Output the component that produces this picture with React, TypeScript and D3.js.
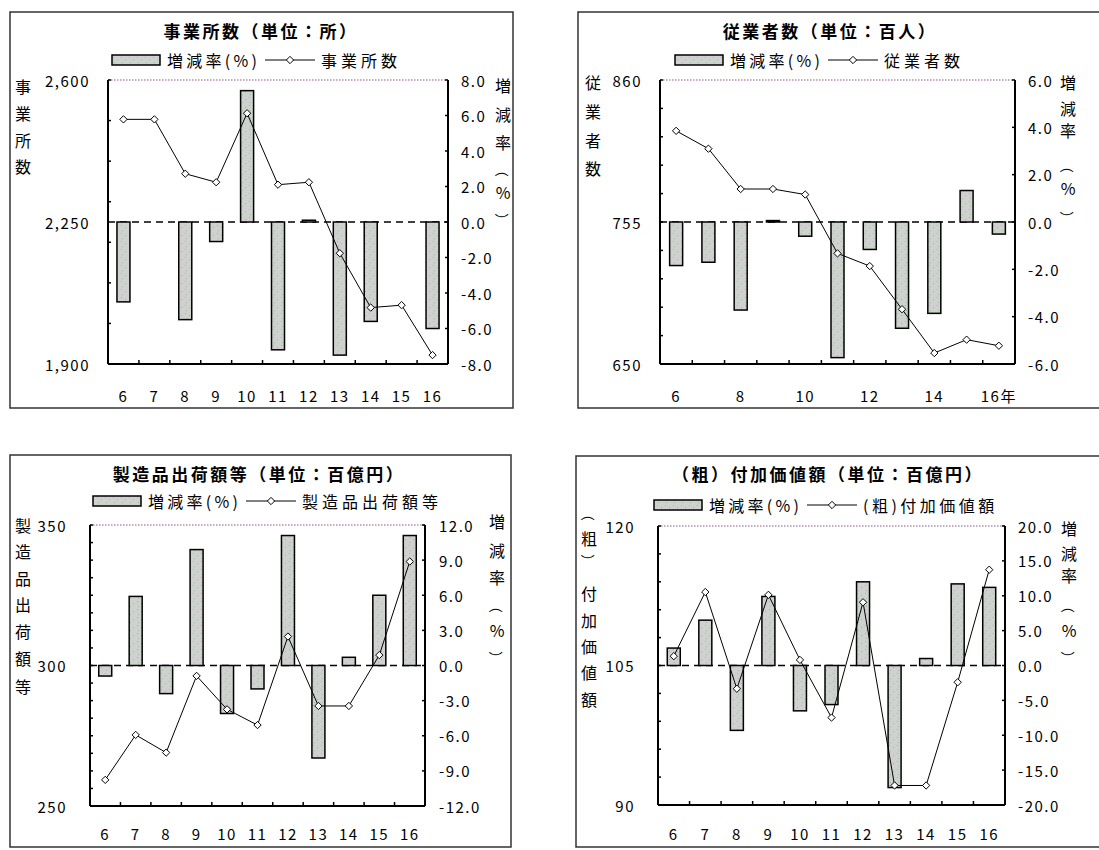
import * as d3 from "d3";

// 年次 (平成)
const years = ["6", "7", "8", "9", "10", "11", "12", "13", "14", "15", "16"];
const yearLabelsAll = years;
const yearLabelsEven = ["6", "", "8", "", "10", "", "12", "", "14", "", "16年"];

// 事業所数
const estabCount = [2503, 2503, 2369, 2348, 2518, 2342, 2348, 2173, 2039, 2045, 1922];
const estabRate = [-4.5, 0, -5.5, -1.1, 7.4, -7.2, 0.1, -7.5, -5.6, 0, -6.0];
const estabLeftLabels = [1900, 2250, 2600];
const estabRightLabels = [-8, -6, -4, -2, 0, 2, 4, 6, 8];

// 従業者数
const workerCount = [822.4, 809.2, 779.4, 779.4, 775.3, 731.8, 722.4, 690.5, 658.1, 668.0, 663.5];
const workerRate = [-1.84, -1.7, -3.72, 0.06, -0.6, -5.73, -1.16, -4.49, -3.86, 1.33, -0.51];
const workerLeftLabels = [650, 755, 860];
const workerRightLabels = [-6, -4, -2, 0, 2, 4, 6];

// 製造品出荷額等
const shipAmount = [259.3, 275.3, 269.0, 296.3, 284.4, 278.8, 310.3, 285.6, 285.6, 303.7, 337.0];
const shipRate = [-0.9, 5.9, -2.4, 9.9, -4.1, -2.0, 11.1, -7.9, 0.7, 6.0, 11.1];
const shipLeftLabels = [250, 300, 350];
const shipRightLabels = [-12, -9, -6, -3, 0, 3, 6, 9, 12];

// (粗)付加価値額
const valueAmount = [106.0, 112.9, 102.5, 112.6, 105.6, 99.4, 111.8, 92.1, 92.1, 103.2, 115.3];
const valueRate = [2.5, 6.5, -9.3, 9.9, -6.5, -5.6, 12.0, -17.5, 1.0, 11.7, 11.2];
const valueLeftLabels = [90, 105, 120];
const valueRightLabels = [-20, -15, -10, -5, 0, 5, 10, 15, 20];

const FONT = '"Noto Sans CJK JP", "Noto Sans CJK SC", sans-serif';

type Cfg = {
  id: string;
  title: string;
  name: string;
  nameSpacing: number;
  leftTitle: { ch: string; x: number; y: number }[];
  rightTitle: { ch: string; x: number; y: number }[];
  frame: [number, number, number, number];
  plot: { l: number; r: number; t: number; b: number };
  count: number[];
  rate: number[];
  leftDomain: [number, number];
  leftMinor: number;
  leftLabels: number[];
  leftFmt: (v: number) => string;
  rightLabels: number[];
  xLabels: string[];
  titleX: number;
  titleY: number;
  legendX: number;
  legendY: number;
  leftLabelX: number;
  rightLabelX: number;
  xLabelY: number;
};

// vertical title: one glyph per entry, parens get turned sideways
const col = (chars: string, x: number, ys: number[]) =>
  Array.from(chars).map((ch, i) => ({ ch, x, y: ys[i] }));

const panels: Cfg[] = [
  {
    id: "p1",
    title: "事業所数（単位：所）",
    name: "事業所数",
    nameSpacing: 4,
    leftTitle: col("事業所数", 23, [86, 113, 140, 166]),
    rightTitle: col("増減率（%）", 503, [85, 114, 142, 170, 192, 220]),
    frame: [10, 12, 503, 396],
    plot: { l: 108, r: 448, t: 80, b: 364 },
    count: estabCount,
    rate: estabRate,
    leftDomain: [1900, 2600],
    leftMinor: 100,
    leftLabels: estabLeftLabels,
    leftFmt: d3.format(","),
    rightLabels: estabRightLabels,
    xLabels: yearLabelsAll,
    titleX: 261,
    titleY: 30,
    legendX: 112,
    legendY: 60,
    leftLabelX: 90,
    rightLabelX: 461,
    xLabelY: 395,
  },
  {
    id: "p2",
    title: "従業者数（単位：百人）",
    name: "従業者数",
    nameSpacing: 4,
    leftTitle: col("従業者数", 593, [82, 111, 140, 168]),
    rightTitle: col("増減率（%）", 1068, [82, 108, 130, 166, 188, 218]),
    frame: [578, 12, 560, 396],
    plot: { l: 660, r: 1015, t: 80, b: 364 },
    count: workerCount,
    rate: workerRate,
    leftDomain: [650, 860],
    leftMinor: 21,
    leftLabels: workerLeftLabels,
    leftFmt: d3.format("d"),
    rightLabels: workerRightLabels,
    xLabels: yearLabelsEven,
    titleX: 830,
    titleY: 30,
    legendX: 675,
    legendY: 60,
    leftLabelX: 642,
    rightLabelX: 1028,
    xLabelY: 395,
  },
  {
    id: "p3",
    title: "製造品出荷額等（単位：百億円）",
    name: "製造品出荷額等",
    nameSpacing: 4,
    leftTitle: col("製造品出荷額等", 23, [525, 551, 578, 604, 631, 658, 686]),
    rightTitle: col("増減率（%）", 497, [521, 550, 577, 606, 630, 658]),
    frame: [10, 455, 501, 392],
    plot: { l: 90, r: 425, t: 525, b: 806 },
    count: shipAmount,
    rate: shipRate,
    leftDomain: [250, 350],
    leftMinor: 6.25,
    leftLabels: shipLeftLabels,
    leftFmt: d3.format("d"),
    rightLabels: shipRightLabels,
    xLabels: yearLabelsAll,
    titleX: 259,
    titleY: 473,
    legendX: 93,
    legendY: 501,
    leftLabelX: 67,
    rightLabelX: 439,
    xLabelY: 833,
  },
  {
    id: "p4",
    title: "（粗）付加価値額（単位：百億円）",
    name: "(粗)付加価値額",
    nameSpacing: 3.5,
    leftTitle: col("（粗）付加価値額", 589, [514, 538, 561, 593, 620, 646, 672, 699]),
    rightTitle: col("増減率（%）", 1069, [528, 553, 575, 606, 630, 658]),
    frame: [576, 456, 560, 391],
    plot: { l: 658, r: 1005, t: 526, b: 805 },
    count: valueAmount,
    rate: valueRate,
    leftDomain: [90, 120],
    leftMinor: 3,
    leftLabels: valueLeftLabels,
    leftFmt: d3.format("d"),
    rightLabels: valueRightLabels,
    xLabels: yearLabelsAll,
    titleX: 828,
    titleY: 473,
    legendX: 654,
    legendY: 505,
    leftLabelX: 635,
    rightLabelX: 1018,
    xLabelY: 833,
  },
];

const diamondType = (d3 as any).symbolDiamond2 ?? d3.symbolDiamond;
const diamond = d3.symbol().type(diamondType).size(34)() ?? "";

function VChar({ c }: { c: { ch: string; x: number; y: number } }) {
  const paren = c.ch === "（" || c.ch === "）";
  return (
    <text x={c.x} y={c.y} textAnchor="middle" dominantBaseline="central" fontSize={paren ? 14 : 16}
      transform={paren ? `rotate(90,${c.x},${c.y})` : undefined}>
      {c.ch}
    </text>
  );
}

function Panel({ cfg }: { cfg: Cfg }) {
  const { plot } = cfg;
  const x = d3.scaleBand().domain(years).range([plot.l, plot.r]);
  const yL = d3.scaleLinear().domain(cfg.leftDomain).range([plot.b, plot.t]);
  const rd = d3.extent(cfg.rightLabels) as [number, number];
  const yR = d3.scaleLinear().domain(rd).range([plot.b, plot.t]);
  const cx = (i: number) => (x(years[i]) ?? 0) + x.bandwidth() / 2;
  const barW = 13;
  const line = d3
    .line<number>()
    .x((_, i) => cx(i))
    .y((d) => yL(d));
  const minor = d3.range(cfg.leftDomain[0], cfg.leftDomain[1] + 0.001, cfg.leftMinor);
  const [fx, fy, fw, fh] = cfg.frame;
  const lx = cfg.legendX;
  const ly = cfg.legendY;

  return (
    <g fontFamily={FONT}>
      <rect x={fx} y={fy} width={fw} height={fh} fill="white" stroke="#333" strokeWidth={1.5} />

      {/* title & legend */}
      <text x={cfg.titleX} y={cfg.titleY} textAnchor="middle" dominantBaseline="central"
        fontSize={17} fontWeight="bold" letterSpacing={2.5}>
        {cfg.title}
      </text>
      <rect x={lx} y={ly - 5} width={48} height={10} fill="url(#dots)" stroke="#000" strokeWidth={1.5} />
      <text x={lx + 55} y={ly} dominantBaseline="central" fontSize={16} textLength={90}
        lengthAdjust="spacing">
        増減率(%)
      </text>
      <line x1={lx + 153} x2={lx + 203} y1={ly} y2={ly} stroke="#000" strokeWidth={1} />
      <path d={diamond} transform={`translate(${lx + 178},${ly})`} fill="white" stroke="#000" />
      <text x={lx + 209} y={ly} dominantBaseline="central" fontSize={16} letterSpacing={cfg.nameSpacing}>
        {cfg.name}
      </text>

      {/* plot frame */}
      <line x1={plot.l} x2={plot.r} y1={plot.t} y2={plot.t} stroke="#b090b0" strokeWidth={1.5}
        strokeDasharray="1.5 1.5" />
      <line x1={plot.l} x2={plot.l} y1={plot.t} y2={plot.b} stroke="#000" strokeWidth={2} />
      <line x1={plot.r} x2={plot.r} y1={plot.t} y2={plot.b} stroke="#000" strokeWidth={2} />
      <line x1={plot.l} x2={plot.r} y1={plot.b} y2={plot.b} stroke="#000" strokeWidth={2} />

      {minor.map((v) => (
        <line key={`lm${v}`} x1={plot.l} x2={plot.l + 3} y1={yL(v)} y2={yL(v)} stroke="#000" strokeWidth={1.5} />
      ))}
      {cfg.rightLabels.map((v) => (
        <line key={`rm${v}`} x1={plot.r - 3} x2={plot.r} y1={yR(v)} y2={yR(v)} stroke="#000" strokeWidth={1.5} />
      ))}
      {years.slice(1).map((yr) => (
        <line key={`xt${yr}`} x1={x(yr)} x2={x(yr)} y1={plot.b} y2={plot.b - 4} stroke="#000" strokeWidth={1.5} />
      ))}

      {/* axis labels */}
      {cfg.leftLabels.map((v) => (
        <text key={`ll${v}`} x={cfg.leftLabelX} y={yL(v)} textAnchor="end" dominantBaseline="central"
          fontSize={15} letterSpacing={1.5}>
          {cfg.leftFmt(v)}
        </text>
      ))}
      {cfg.rightLabels.map((v) => (
        <text key={`rl${v}`} x={cfg.rightLabelX} y={yR(v)} dominantBaseline="central"
          fontSize={15} letterSpacing={1.5}>
          {v.toFixed(1)}
        </text>
      ))}
      {cfg.xLabels.map((t, i) => (
        <text key={`xl${i}`} x={cx(i)} y={cfg.xLabelY} textAnchor="middle" dominantBaseline="central"
          fontSize={15} letterSpacing={1.5}>
          {t}
        </text>
      ))}
      {cfg.leftTitle.map((c, i) => (
        <VChar key={`lt${i}`} c={c} />
      ))}
      {cfg.rightTitle.map((c, i) => (
        <VChar key={`rt${i}`} c={c} />
      ))}

      {/* zero line */}
      <line x1={plot.l} x2={plot.r} y1={yR(0)} y2={yR(0)} stroke="#000" strokeWidth={1.5}
        strokeDasharray="7 5" />

      {/* bars */}
      {cfg.rate.map((v, i) =>
        v === 0 ? null : (
          <rect key={`b${i}`} x={cx(i) - barW / 2} y={Math.min(yR(v), yR(0))} width={barW}
            height={Math.max(Math.abs(yR(v) - yR(0)), 1)} fill="url(#dots)" stroke="#000"
            strokeWidth={1.5} />
        )
      )}

      {/* line */}
      <path d={line(cfg.count) ?? ""} fill="none" stroke="#000" strokeWidth={1} />
      {cfg.count.map((v, i) => (
        <path key={`m${i}`} d={diamond} transform={`translate(${cx(i)},${yL(v)})`} fill="white"
          stroke="#000" strokeWidth={1} />
      ))}
    </g>
  );
}

export default function App() {
  return (
    <svg width={1099} height={850} style={{ position: "absolute", left: 0, top: 0, display: "block" }}>
      <defs>
        <pattern id="dots" width={8} height={8} patternUnits="userSpaceOnUse">
          <rect width={8} height={8} fill="#d0d0d0" />
          <rect x={1} y={1} width={1} height={1} fill="#e088e0" />
          <rect x={5} y={3} width={1} height={1} fill="#e088e0" />
          <rect x={2} y={6} width={1} height={1} fill="#8fc88f" />
        </pattern>
      </defs>
      <rect width={1099} height={850} fill="white" />
      {panels.map((p) => (
        <Panel key={p.id} cfg={p} />
      ))}
    </svg>
  );
}
